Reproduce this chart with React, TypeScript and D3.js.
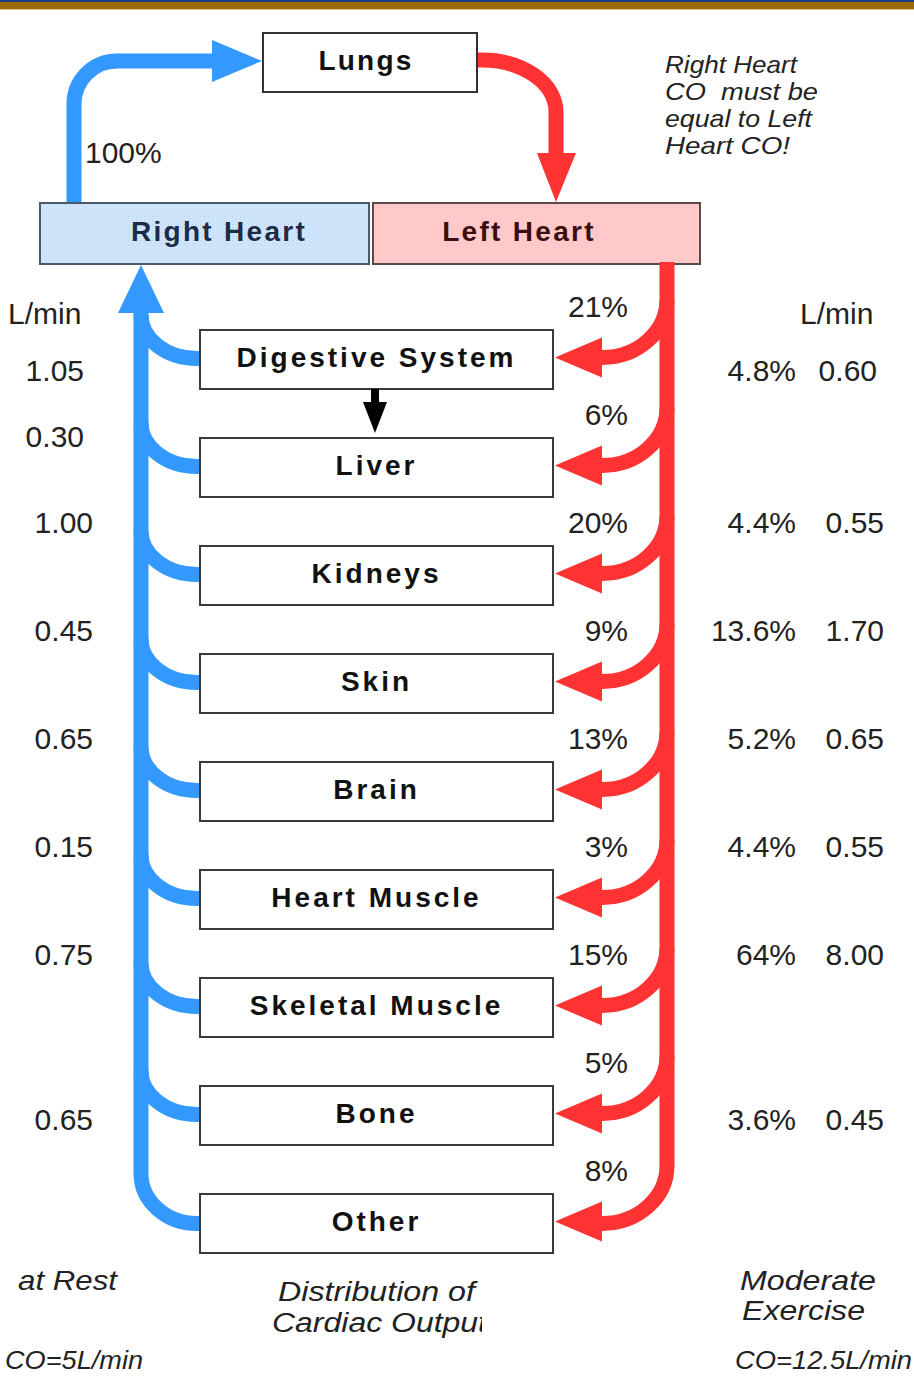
import React from "react";
import * as d3 from "d3";

// ---- data ----
const organs = ["Digestive System", "Liver", "Kidneys", "Skin", "Brain", "Heart Muscle", "Skeletal Muscle", "Bone", "Other"];
const restPct = [21, 6, 20, 9, 13, 3, 15, 5, 8];
const restLmin: (number | null)[] = [1.05, 0.3, 1.0, 0.45, 0.65, 0.15, 0.75, 0.65, null];
const exercisePct: (number | null)[] = [4.8, null, 4.4, 13.6, 5.2, 4.4, 64, 3.6, null];
const exerciseLmin: (number | null)[] = [0.6, null, 0.55, 1.7, 0.65, 0.55, 8.0, 0.45, null];
const noteLines = ["Right Heart", "CO  must be", "equal to Left", "Heart CO!"];

// ---- layout ----
const W = 914, H = 1383;
const BLUE = "#3399ff", RED = "#ff3333";
const boxX0 = 200, boxX1 = 553, boxH = 59;
const BX = 141, RX = 667, SW = 15;
const valueDy = [10, -32, -54, -54, -54, -54, -54, 3, 0];
const restRight = [84, 84, 93, 93, 93, 93, 93, 93, 93];
const exLminRight = [877, 884, 884, 884, 884, 884, 884, 884, 884];
const noteWidths = [132, 153, 147, 125];

const rowY = d3.scaleLinear().domain([0, organs.length - 1]).range([359.5, 359.5 + 108 * (organs.length - 1)]);

const numFont = "'Liberation Sans', Arial, Helvetica, sans-serif";

function blueTrunk() {
  const last = rowY(organs.length - 1);
  return `M${boxX0},${last} L197,${last} A56,50 0 0 1 ${BX},${last - 50} L${BX},312`;
}
function blueBranch(c: number) {
  return `M${boxX0},${c - 1} L197,${c - 1} A56,44 0 0 1 ${BX},${c - 45}`;
}
function redTrunk() {
  const last = rowY(organs.length - 1);
  return `M${RX},262 L${RX},${last - 58} A65,58 0 0 1 602,${last}`;
}
function redBranch(c: number) {
  const y = c - 2;
  return `M${RX},${y - 58} A65,58 0 0 1 602,${y} L604,${y}`;
}
function tri(pts: [number, number][]) {
  const p = d3.path();
  p.moveTo(pts[0][0], pts[0][1]);
  pts.slice(1).forEach(q => p.lineTo(q[0], q[1]));
  p.closePath();
  return p.toString();
}

function Cap(props: { x: number; y: number; w: number; size: number; children: string; clip?: string }) {
  return (
    <text x={props.x} y={props.y} fontFamily={numFont} fontStyle="italic" fontSize={props.size}
      textLength={props.w} lengthAdjust="spacingAndGlyphs" fill="#222" clipPath={props.clip} xmlSpace="preserve">
      {props.children}
    </text>
  );
}

export default function App() {
  const fmtPct = (v: number) => `${v}%`;
  const fmtL = (v: number) => v.toFixed(2);
  return (
    <svg width={W} height={H} viewBox={`0 0 ${W} ${H}`}
      style={{ position: "absolute", left: 0, top: 0, display: "block", background: "#fff" }}>
      <defs>
        <pattern id="bluetex" width="4" height="4" patternUnits="userSpaceOnUse">
          <rect width="4" height="4" fill="#d2e6fb" />
          <rect x="0" y="0" width="1" height="1" fill="#aecdef" />
          <rect x="2" y="2" width="1" height="1" fill="#b9d5f3" />
        </pattern>
        <clipPath id="clipOut"><rect x="0" y="0" width="482" height={H} /></clipPath>
      </defs>
      {/* top border */}
      <rect x={0} y={0} width={W} height={2} fill="#1d3f8a" />
      <rect x={0} y={2} width={W} height={7} fill="#9c6a00" />
      <rect x={0} y={9} width={W} height={1} fill="#e2c58a" />

      {/* top arrows */}
      <path d={`M74,205 L74,104 A43,43 0 0 1 117,61 L214,61`} fill="none" stroke={BLUE} strokeWidth={SW} />
      <path d={tri([[212, 40], [262, 61], [212, 82]])} fill={BLUE} />
      <path d={`M477,60 L482,60 A74,52 0 0 1 556,112 L556,155`} fill="none" stroke={RED} strokeWidth={SW} />
      <path d={tri([[537, 153], [576, 153], [556, 202]])} fill={RED} />

      {/* Lungs */}
      <rect x={263} y={33} width={214} height={59} fill="#fff" stroke="#333" strokeWidth={2} />
      <text x={366} y={70} textAnchor="middle" fontFamily={numFont} fontWeight="bold" fontSize={28} letterSpacing={2.2} fill="#111">Lungs</text>
      <text x={85} y={163} fontFamily={numFont} fontSize={30} fill="#222">100%</text>

      {/* note */}
      {noteLines.map((t, i) => (
        <Cap key={t} x={665} y={73 + 27 * i} w={noteWidths[i]} size={24}>{t}</Cap>
      ))}

      {/* hearts */}
      <rect x={40} y={203} width={329} height={61} fill="url(#bluetex)" stroke="#4b5a6a" strokeWidth={2} />
      <text x={219} y={241} textAnchor="middle" fontFamily={numFont} fontWeight="bold" fontSize={28} letterSpacing={2.3} fill="#1c2b46">Right Heart</text>
      <rect x={373} y={203} width={327} height={61} fill="#ffc9c9" stroke="#5a4a4a" strokeWidth={2} />
      <text x={519} y={241} textAnchor="middle" fontFamily={numFont} fontWeight="bold" fontSize={28} letterSpacing={2.3} fill="#3b0d0d">Left Heart</text>

      {/* trunks */}
      <path d={blueTrunk()} fill="none" stroke={BLUE} strokeWidth={SW} />
      <path d={tri([[118, 313], [164, 313], [141, 265]])} fill={BLUE} />
      <path d={redTrunk()} fill="none" stroke={RED} strokeWidth={SW} />

      {organs.map((o, i) => {
        const c = rowY(i);
        const last = i === organs.length - 1;
        return (
          <g key={o}>
            {!last && <path d={blueBranch(c)} fill="none" stroke={BLUE} strokeWidth={SW} />}
            {!last && <path d={redBranch(c)} fill="none" stroke={RED} strokeWidth={SW} />}
            <path d={tri([[602, c - 22], [602, c + 18], [555, c - 2]])} fill={RED} />
            <rect x={boxX0} y={c - boxH / 2} width={boxX1 - boxX0} height={boxH} fill="#fff" stroke="#3a3a3a" strokeWidth={2} />
            <text x={(boxX0 + boxX1) / 2} y={c + 7} textAnchor="middle" fontFamily={numFont} fontWeight="bold" fontSize={28} letterSpacing={3.0} fill="#111">{o}</text>
            <text x={628} y={c - 54 + 11} textAnchor="end" fontFamily={numFont} fontSize={30} fill="#222">{fmtPct(restPct[i])}</text>
            {restLmin[i] != null && (
              <text x={restRight[i]} y={c + valueDy[i] + 11} textAnchor="end" fontFamily={numFont} fontSize={30} fill="#222">{fmtL(restLmin[i] as number)}</text>
            )}
            {exercisePct[i] != null && (
              <text x={796} y={c + valueDy[i] + 11} textAnchor="end" fontFamily={numFont} fontSize={30} fill="#222">{fmtPct(exercisePct[i] as number)}</text>
            )}
            {exerciseLmin[i] != null && (
              <text x={exLminRight[i]} y={c + valueDy[i] + 11} textAnchor="end" fontFamily={numFont} fontSize={30} fill="#222">{fmtL(exerciseLmin[i] as number)}</text>
            )}
          </g>
        );
      })}

      {/* digestive -> liver arrow */}
      <rect x={371} y={389} width={8} height={14} fill="#000" />
      <path d={tri([[363, 402], [387, 402], [375, 433]])} fill="#000" />

      {/* column headers */}
      <text x={8} y={324} fontFamily={numFont} fontSize={30} fill="#222">L/min</text>
      <text x={800} y={324} fontFamily={numFont} fontSize={30} fill="#222">L/min</text>

      {/* bottom captions */}
      <Cap x={18} y={1290} w={99} size={28}>at Rest</Cap>
      <Cap x={278} y={1301} w={197} size={27}>Distribution of</Cap>
      <Cap x={272} y={1332} w={215} size={27} clip="url(#clipOut)">Cardiac Output</Cap>
      <Cap x={740} y={1290} w={136} size={27}>Moderate</Cap>
      <Cap x={742} y={1320} w={123} size={27}>Exercise</Cap>
      <Cap x={5} y={1369} w={138} size={25}>CO=5L/min</Cap>
      <Cap x={735} y={1369} w={177} size={25}>CO=12.5L/min</Cap>
    </svg>
  );
}
